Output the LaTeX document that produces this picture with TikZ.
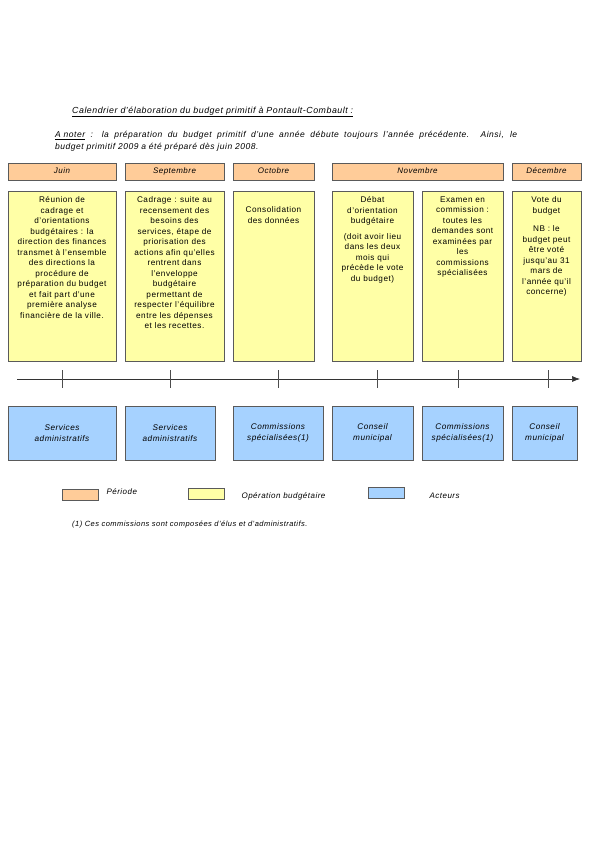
\documentclass[tikz,border=0pt]{standalone}
\usepackage{fontspec}
\setmainfont{Liberation Sans}[LetterSpace=6]
\usepackage{xcolor}
\usetikzlibrary{arrows.meta, positioning}
\definecolor{perfill}{HTML}{FFCC99}
\definecolor{opfill}{HTML}{FFFFA6}
\definecolor{actfill}{HTML}{A6D2FF}
\definecolor{boxline}{HTML}{5A5A5A}
\begin{document}
\begin{tikzpicture}[x=1pt, y=-1pt,
  perbox/.style={rectangle, draw=boxline, fill=perfill, line width=0.8pt,
                 minimum height=17pt, inner sep=0pt,
                 text height=5.6pt, text depth=2.4pt,
                 font=\itshape\fontsize{8}{10}\selectfont},
  opbox/.style={rectangle, draw=boxline, fill=opfill, line width=0.8pt,
                minimum height=170pt, inner sep=0pt},
  optext/.style={inner sep=0pt, align=center,
                 font=\fontsize{8.2}{10.5}\selectfont},
  actbox/.style={rectangle, draw=boxline, fill=actfill, line width=0.8pt,
                 minimum height=54pt, inner sep=0pt, align=center,
                 font=\itshape\fontsize{8.2}{10.8}\selectfont},
  legbox/.style={rectangle, draw=boxline, line width=0.8pt,
                 minimum width=36pt, minimum height=11pt, inner sep=0pt},
  legtext/.style={anchor=west, inner sep=0pt,
                  font=\itshape\fontsize{8}{10}\selectfont},
  tline/.style={-{Latex[length=8pt, width=6pt]}, line width=0.6pt, black!80},
  tick/.style={line width=0.6pt, black!70}
]
\fill[white] (0,0) rectangle (595,842);
\useasboundingbox (0,0) rectangle (595,842);
%% heading
\node[anchor=west, inner sep=0pt, font=\itshape\fontsize{8.8}{10}\selectfont]
  (title) at (72,112) {\underline{Calendrier d'élaboration du budget primitif à Pontault-Combault :}};
\node[anchor=north west, inner sep=0pt, text width=462pt, align=justify,
      font=\itshape\fontsize{8.5}{12}\selectfont]
  (note) at (55,131) {\underline{A noter} : la préparation du budget primitif d'une année débute toujours l'année précédente. Ainsi, le\linebreak budget primitif 2009 a été préparé dès juin 2008.};
%% ROW 1: periods
\node[perbox, minimum width=108pt] (juin) at (62,171.5)    {Juin};
\node[perbox, minimum width=99pt]  (sept) at (174.5,171.5) {Septembre};
\node[perbox, minimum width=81pt]  (oct)  at (273.5,171.5) {Octobre};
\node[perbox, minimum width=171pt] (nov)  at (417.5,171.5) {Novembre};
\node[perbox, minimum width=69pt]  (dec)  at (546.5,171.5) {Décembre};
%% ROW 2: budget operations
\node[opbox, minimum width=108pt] (op1) at (62,276)    {};
\node[opbox, minimum width=99pt]  (op2) at (174.5,276) {};
\node[opbox, minimum width=81pt]  (op3) at (273.5,276) {};
\node[opbox, minimum width=81pt]  (op4) at (372.5,276) {};
\node[opbox, minimum width=81pt]  (op5) at (462.5,276) {};
\node[opbox, minimum width=69pt]  (op6) at (546.5,276) {};
\node[optext, below=6pt of op1.north] (op1t) {Réunion de\\cadrage et\\d'orientations\\budgétaires : la\\direction des finances\\transmet à l'ensemble\\des directions la\\procédure de\\préparation du budget\\et fait part d'une\\première analyse\\financière de la ville.};
\node[optext, below=6pt of op2.north] (op2t) {Cadrage : suite au\\recensement des\\besoins des\\services, étape de\\priorisation des\\actions afin qu'elles\\rentrent dans\\l'enveloppe\\budgétaire\\permettant de\\respecter l'équilibre\\entre les dépenses\\et les recettes.};
\node[optext, below=16pt of op3.north] (op3t) {Consolidation\\des données};
\node[optext, below=6pt of op4.north] (op4t) {Débat\\d'orientation\\budgétaire\\[5pt](doit avoir lieu\\dans les deux\\mois qui\\précède le vote\\du budget)};
\node[optext, below=6pt of op5.north] (op5t) {Examen en\\commission :\\toutes les\\demandes sont\\examinées par\\les\\commissions\\spécialisées};
\node[optext, below=6pt of op6.north] (op6t) {Vote du\\budget\\[8pt]NB : le\\budget peut\\être voté\\jusqu'au 31\\mars de\\l'année qu'il\\concerne)};
%% time line
\coordinate (tstart) at (17,379);
\coordinate (tend)   at (580,379);
\draw[tline] (tstart) -- (tend);
\foreach \tx in {62,170,278,377,458,548}
  \draw[tick] (\tx,370) -- (\tx,388);
%% ROW 3: actors
\node[actbox, minimum width=108pt] (act1) at (62,433)    {Services\\administratifs};
\node[actbox, minimum width=90pt]  (act2) at (170,433)   {Services\\administratifs};
\node[actbox, minimum width=90pt]  (act3) at (278,433)   {Commissions\\spécialisées(1)};
\node[actbox, minimum width=81pt]  (act4) at (372.5,433) {Conseil\\municipal};
\node[actbox, minimum width=81pt]  (act5) at (462.5,433) {Commissions\\spécialisées(1)};
\node[actbox, minimum width=65pt]  (act6) at (544.5,433) {Conseil\\municipal};
%% legend
\node[legbox, fill=perfill] (legper) at (80,494.5) {};
\node[legbox, fill=opfill]  (legop)  at (206,493.5) {};
\node[legbox, fill=actfill] (legact) at (386,492.5) {};
\node[legtext, right=8pt of legper, yshift=3pt]  (legpert) {Période};
\node[legtext, right=17pt of legop, yshift=-2.5pt] (legopt) {Opération budgétaire};
\node[legtext, right=25pt of legact, yshift=-3.5pt] (legactt) {Acteurs};
\node[anchor=west, inner sep=0pt, font=\itshape\fontsize{7.5}{9}\selectfont]
  (foot) at (72,525) {(1) Ces commissions sont composées d'élus et d'administratifs.};
\end{tikzpicture}
\end{document}
